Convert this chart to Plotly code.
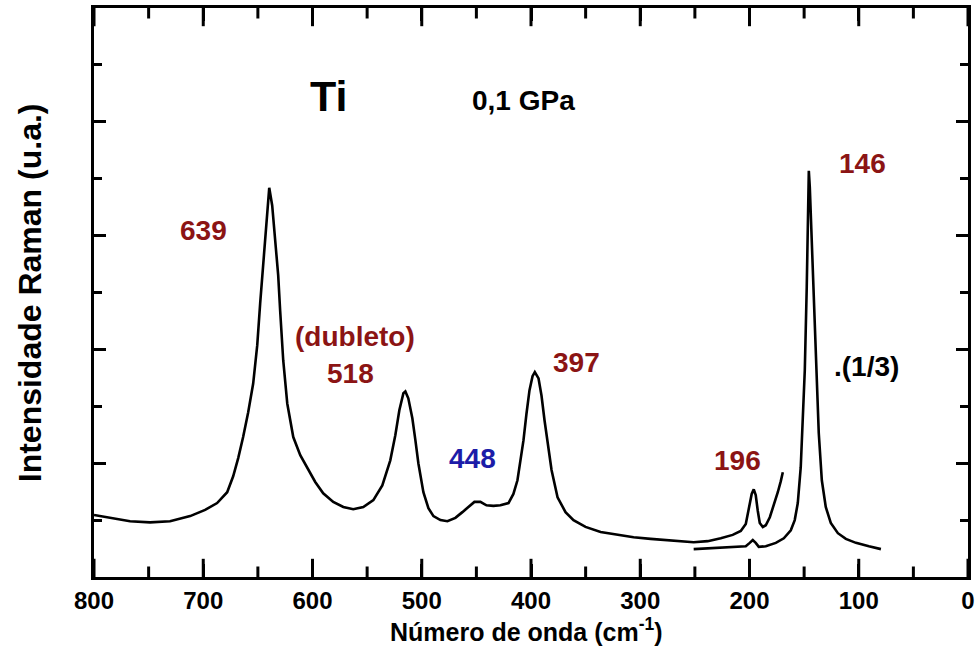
import plotly.graph_objects as go

# Main spectrum (wavenumber cm-1, intensity a.u.)
main_x = [800, 785.3, 767, 748.7, 730.4, 712, 698.3, 687.3, 678.1, 672.6, 668, 663.5, 658.9, 654.3,
          650.6, 647.9, 645.1, 642.4, 639.6, 636.9, 634.1, 631.4, 629.6, 626.8, 623.1, 617.6, 611.2,
          604.8, 597.5, 590.2, 581, 571.8, 562.7, 553.5, 544.3, 536.1, 528.8, 524.2, 520.5, 516.8,
          515, 512.3, 508.6, 505.8, 503.1, 498.5, 493.9, 489.3, 482.9, 476.5, 469.2, 462.8, 457.3,
          451.8, 446.3, 440.8, 434.4, 428, 420.6, 416.1, 412.4, 409.6, 406.9, 404.2, 401.4, 398.6,
          396.5, 393.1, 390.4, 387.6, 384.9, 381.2, 375.7, 368.4, 361.1, 350.1, 336.3, 320.7, 306.1,
          290.5, 274.9, 263, 251.1, 238.3, 226.3, 215.4, 208, 203.4, 200.7, 198, 196.1, 194.3, 192.4,
          190.6, 187.8, 185.1, 181.4, 177.8, 174.1, 171.4, 169.5]
main_y = [1.09, 1.04, 0.98, 0.96, 0.98, 1.07, 1.18, 1.30, 1.49, 1.77, 2.09, 2.46, 2.89, 3.40,
          4.07, 4.81, 5.47, 6.18, 6.84, 6.53, 5.96, 5.30, 4.68, 3.81, 3.05, 2.46, 2.14,
          1.93, 1.67, 1.47, 1.32, 1.23, 1.19, 1.23, 1.35, 1.61, 2.05, 2.49, 2.93, 3.23,
          3.26, 3.14, 2.79, 2.40, 2.00, 1.49, 1.21, 1.07, 1.00, 0.98, 1.04, 1.14, 1.23,
          1.32, 1.32, 1.26, 1.25, 1.26, 1.30, 1.46, 1.70, 2.02, 2.40, 2.86, 3.28, 3.53,
          3.60, 3.49, 3.19, 2.75, 2.35, 1.88, 1.40, 1.14, 1.00, 0.88, 0.79, 0.74, 0.70,
          0.67, 0.65, 0.63, 0.61, 0.63, 0.68, 0.74, 0.81, 0.93, 1.18, 1.46, 1.54, 1.44, 1.16,
          0.95, 0.88, 0.91, 1.05, 1.26, 1.49, 1.68, 1.84]

# Low-wavenumber spectrum, scaled (1/3)
low_x = [251.1, 235.5, 217.2, 203.4, 199.8, 197, 194.3, 191.5, 185.1, 175.9, 168.6, 162.2, 158.6,
         155.8, 153.1, 151.2, 149.4, 147.6, 146.7, 145.7, 144.8, 143, 141.2, 139.3, 136.6, 133.8,
         130.2, 125.6, 119.1, 111.8, 102.6, 90.7, 79.7]
low_y = [0.49, 0.51, 0.53, 0.54, 0.60, 0.65, 0.60, 0.53, 0.54, 0.60, 0.68, 0.82, 1.00,
         1.30, 1.93, 2.67, 3.63, 5.10, 6.20, 7.14, 6.85, 5.95, 4.86, 3.89, 2.53, 1.70,
         1.23, 0.95, 0.77, 0.67, 0.60, 0.54, 0.49]

# Peak labels
label_text = ["639", "(dubleto)", "518", "397", "448", "196", "146"]
label_x = [700.1, 560.8, 565.4, 358.3, 453.6, 210.8, 96.2]
label_y = [6.09, 4.23, 3.58, 3.77, 2.09, 2.05, 7.26]
label_color = ["#8B1414", "#8B1414", "#8B1414", "#8B1414", "#1C1CA8", "#8B1414", "#8B1414"]

# x tick values (major labelled, minor unlabelled)
x_major = [800, 700, 600, 500, 400, 300, 200, 100, 0]
x_minor = [750, 650, 550, 450, 350, 250, 150, 50]
Y_RANGE = [0, 10]

FONT = "Liberation Sans, Arial, sans-serif"

fig = go.Figure()
fig.add_trace(go.Scatter(x=main_x, y=main_y, mode="lines",
                         line=dict(color="black", width=2.6), showlegend=False))
fig.add_trace(go.Scatter(x=low_x, y=low_y, mode="lines",
                         line=dict(color="black", width=2.6), showlegend=False))

# inward x tick marks on bottom and top frame (clipped to the plot area)
fig.add_trace(go.Scatter(x=x_major + x_major, y=[Y_RANGE[0]] * len(x_major) + [Y_RANGE[1]] * len(x_major),
                         mode="markers", cliponaxis=True, showlegend=False, hoverinfo="skip",
                         marker=dict(symbol="line-ns", size=26, color="black",
                                     line=dict(width=3, color="black"))))
fig.add_trace(go.Scatter(x=x_minor + x_minor, y=[Y_RANGE[0]] * len(x_minor) + [Y_RANGE[1]] * len(x_minor),
                         mode="markers", cliponaxis=True, showlegend=False, hoverinfo="skip",
                         marker=dict(symbol="line-ns", size=15, color="black",
                                     line=dict(width=3, color="black"))))

for t, x, y, c in zip(label_text, label_x, label_y, label_color):
    fig.add_annotation(x=x, y=y, text=t, showarrow=False,
                       font=dict(family=FONT, size=28, color=c, weight="bold"))

fig.add_annotation(x=585.6, y=8.45, text="Ti", showarrow=False,
                   font=dict(family=FONT, size=43, color="black", weight="bold"))
fig.add_annotation(x=406.9, y=8.37, text="0,1 GPa", showarrow=False,
                   font=dict(family=FONT, size=28, color="black", weight="bold"))
fig.add_annotation(x=92.6, y=3.70, text=".(1/3)", showarrow=False,
                   font=dict(family=FONT, size=28, color="black", weight="bold"))

# Axis titles
fig.add_annotation(xref="paper", yref="paper", x=0.495, y=-0.094, yanchor="middle",
                   text="Número de onda (cm<sup>-1</sup>)", showarrow=False,
                   font=dict(family=FONT, size=25, color="black", weight="bold"))
fig.add_annotation(xref="paper", yref="paper", x=-0.0735, y=0.5, textangle=-90,
                   xanchor="center", yanchor="middle",
                   text="Intensidade Raman (u.a.)", showarrow=False,
                   font=dict(family=FONT, size=32, color="black", weight="bold"))

fig.update_layout(
    width=975, height=652,
    margin=dict(l=94, r=7, t=8, b=75, autoexpand=False),
    paper_bgcolor="white", plot_bgcolor="white",
    font=dict(family=FONT, color="black"),
    xaxis=dict(range=[800, 0], tickmode="array", tickvals=x_major,
               ticktext=[str(v) for v in x_major],
               automargin=False, layer="above traces",
               ticks="inside", ticklen=13, tickwidth=3, tickcolor="#000000",
               showline=True, linewidth=3, linecolor="black", mirror="ticks",
               showgrid=False, zeroline=False,
               tickfont=dict(family=FONT, size=24, color="black", weight="bold")),
    yaxis=dict(range=Y_RANGE, tick0=0, dtick=2, showticklabels=False, automargin=False,
               ticks="inside", ticklen=12, tickwidth=2.5, tickcolor="black",
               minor=dict(dtick=1, ticks="inside", ticklen=8, tickwidth=2.5, tickcolor="black"),
               showline=True, linewidth=3, linecolor="black", mirror="ticks",
               showgrid=False, zeroline=False),
)

fig.write_html("out.html", config={"displayModeBar": False},
               post_script="document.body.style.margin='0';document.body.style.padding='0';")
